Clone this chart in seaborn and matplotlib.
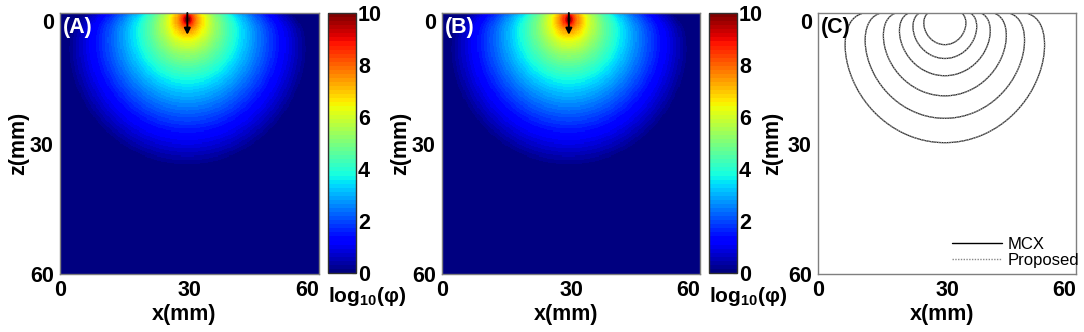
import numpy as np
import pandas as pd
import matplotlib
matplotlib.use('Agg')
import matplotlib.pyplot as plt
from matplotlib.lines import Line2D
import seaborn as sns

# slab geometry (mm)
slab_mm = 60
cell_mm = 0.25
axis_ticks_mm = [0, 30, 60]
axis_tick_labels = ['0', '30', '60']
cbar_ticks = [0, 2, 4, 6, 8, 10]
panel_names = ['(A)', '(B)', '(C)']

source_x_mm = 29.5
source_depth_mm = 1.5
arrow_len_mm = 5.0

# fall-off of log10(phi)
# log10(phi) ~ peak - slope*r - power*log10(r), with a mirrored sink above the surface
peak_log = 9.1
slope_per_mm = 0.124
power = 3.09
extrap_boundary_mm = 0.5
lateral_scale = 0.9

# iso-fluence levels drawn in (C)
contour_levels = [1, 2, 3, 4, 5, 6]
series_names = ['MCX', 'Proposed']


def log_fluence(x, z):
    dx = (x - source_x_mm) / lateral_scale
    r1 = np.sqrt(dx**2 + (z - source_depth_mm)**2 + 0.3**2)
    r2 = np.sqrt(dx**2 + (z + source_depth_mm + 2 * extrap_boundary_mm)**2 + 0.3**2)
    f1 = 10 ** (peak_log - slope_per_mm * r1 - power * np.log10(r1))
    f2 = 10 ** (peak_log - slope_per_mm * r2 - power * np.log10(r2))
    return np.log10(f1 - f2)


centers = (np.arange(int(slab_mm / cell_mm)) + 0.5) * cell_mm
X, Z = np.meshgrid(centers, centers)
field = log_fluence(X, Z)
df_mcx = pd.DataFrame(np.clip(field, 0, 10), index=centers, columns=centers)
df_proposed = df_mcx.copy()

sns.set_style('white')
plt.rcParams['font.family'] = ['Liberation Sans', 'DejaVu Sans']
plt.rcParams['text.color'] = 'black'
plt.rcParams['axes.labelcolor'] = 'black'
plt.rcParams['mathtext.fontset'] = 'custom'
plt.rcParams['mathtext.rm'] = 'Liberation Sans:bold'
plt.rcParams['mathtext.it'] = 'Liberation Sans:bold'
plt.rcParams['mathtext.bf'] = 'Liberation Sans:bold'

W, H = 1084, 332
fig = plt.figure(figsize=(W / 100, H / 100), dpi=100)


def box(x0, y0, x1, y1):
    return [x0 / W, 1 - y1 / H, (x1 - x0) / W, (y1 - y0) / H]


ax_a = fig.add_axes(box(60, 13, 319, 274))
cax_a = fig.add_axes(box(328, 13, 356, 273))
ax_b = fig.add_axes(box(442, 13, 700, 274))
cax_b = fig.add_axes(box(709, 13, 737, 273))
ax_c = fig.add_axes(box(818, 13, 1076, 274))

jet = plt.get_cmap('jet', 64)
fs = 15.5
frame_col = '#7f7f7f'


def style_axes(ax, to_units, ylab_x):
    ax.set_xticks([t * to_units for t in axis_ticks_mm])
    ax.set_yticks([t * to_units for t in axis_ticks_mm])
    ax.set_xticklabels(axis_tick_labels, fontsize=fs, fontweight='bold')
    ax.set_yticklabels(axis_tick_labels, fontsize=fs, fontweight='bold')
    ax.get_xticklabels()[-1].set_ha('right')
    ax.get_yticklabels()[0].set_va('top')
    ax.tick_params(length=0, pad=4.5, colors='black', labelcolor='black')
    for s in ax.spines.values():
        s.set_visible(True)
        s.set_color(frame_col)
        s.set_linewidth(1.0)
    ax.set_xlabel('x(mm)', fontsize=fs, fontweight='bold', color='black')
    ax.set_ylabel('z(mm)', fontsize=fs, fontweight='bold', color='black')
    ax.xaxis.set_label_coords(0.48, -0.115)
    ax.yaxis.set_label_coords(ylab_x, 0.5)


for ax, cax, df, name, cx in [(ax_a, cax_a, df_mcx, panel_names[0], 328),
                              (ax_b, cax_b, df_proposed, panel_names[1], 709)]:
    sns.heatmap(df, ax=ax, cmap=jet, vmin=0, vmax=10, cbar_ax=cax,
                xticklabels=False, yticklabels=False, rasterized=True)
    style_axes(ax, 1 / cell_mm, -0.118)
    ax.annotate('', xy=(source_x_mm / cell_mm, arrow_len_mm / cell_mm),
                xytext=(source_x_mm / cell_mm, 0),
                arrowprops=dict(arrowstyle='-|>', color='black', lw=1.4,
                                mutation_scale=9, shrinkA=0, shrinkB=0))
    ax.text(0.01, 0.985, name, transform=ax.transAxes, color='white',
            fontsize=fs, fontweight='bold', va='top', ha='left')
    cbar = ax.collections[0].colorbar
    cbar.set_ticks(cbar_ticks)
    cbar.ax.tick_params(direction='in', length=3, width=0.8, labelsize=fs,
                        pad=1.5, colors='black', labelcolor='black')
    for t in cbar.ax.get_yticklabels():
        t.set_fontweight('bold')
    cbar.outline.set_edgecolor('#303030')
    cbar.outline.set_linewidth(1.0)
    fig.text(cx / W, 1 - 285 / H, r'log$_{10}$(φ)', fontsize=15,
             fontweight='bold', ha='left', va='top', color='black')

# (C) iso-lines of both fields
ax_c.contour(centers, centers, df_mcx.values, levels=contour_levels,
             colors='#2a2a2a', linewidths=0.9)
ax_c.contour(centers, centers, df_proposed.values, levels=contour_levels,
             colors='#a0a0a0', linewidths=0.9, linestyles=[(0, (1, 1))])
ax_c.set_xlim(0, slab_mm)
ax_c.set_ylim(slab_mm, 0)
style_axes(ax_c, 1, -0.135)
ax_c.text(0.01, 0.985, panel_names[2], transform=ax_c.transAxes, color='black',
          fontsize=fs, fontweight='bold', va='top', ha='left')
handles = [Line2D([], [], color='black', lw=1.0),
           Line2D([], [], color='#888888', lw=1.0, ls=(0, (1, 1)))]
ax_c.legend(handles, series_names, loc='lower right',
            bbox_to_anchor=(1079 / W, 1 - 268 / H), bbox_transform=fig.transFigure,
            frameon=False, fontsize=12, handlelength=3.0, handletextpad=0.35,
            labelspacing=0.05, borderpad=0, borderaxespad=0)

fig.savefig('out.png', dpi=100)
